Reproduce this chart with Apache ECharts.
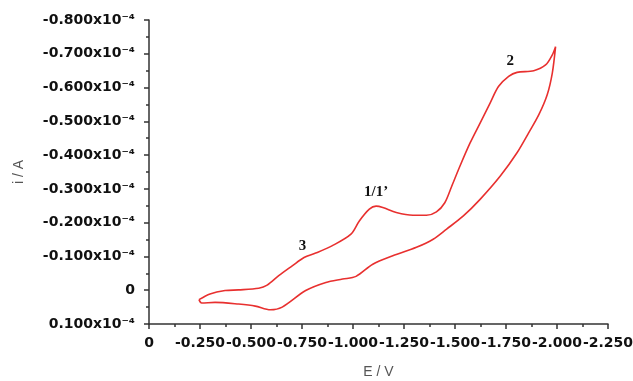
<!DOCTYPE html>
<html>
<head>
<meta charset="utf-8">
<script src="https://cdn.jsdelivr.net/npm/echarts@6/dist/echarts.min.js"></script>
<style>
  html, body { margin: 0; padding: 0; background: #fff; }
  #main { width: 633px; height: 381px; }
</style>
</head>
<body>
<div id="main"></div>
<script>
// potential (V) and current (x10^-4 A), cathodic sweep -0.25 -> -2.0 V
var forwardE = [-0.245, -0.299, -0.373, -0.439, -0.538, -0.579, -0.636, -0.702, -0.760, -0.817,
  -0.899, -0.990, -1.031, -1.080, -1.113, -1.146, -1.212, -1.294, -1.360, -1.409,
  -1.450, -1.484, -1.524, -1.574, -1.623, -1.672, -1.713, -1.763, -1.804, -1.886,
  -1.944, -1.977, -1.993];
var forwardI = [0.028, 0.011, 0.001, -0.001, -0.006, -0.015, -0.043, -0.072, -0.097, -0.110,
  -0.132, -0.166, -0.205, -0.240, -0.249, -0.245, -0.230, -0.222, -0.222, -0.232,
  -0.259, -0.308, -0.367, -0.436, -0.495, -0.554, -0.603, -0.633, -0.645, -0.650,
  -0.667, -0.697, -0.721];

// return sweep -2.0 -> -0.25 V
var reverseE = [-1.977, -1.952, -1.911, -1.861, -1.804, -1.722, -1.623, -1.541, -1.459, -1.393,
  -1.311, -1.195, -1.097, -1.015, -0.949, -0.867, -0.768, -0.653, -0.595, -0.521,
  -0.439, -0.324, -0.258, -0.245];
var reverseI = [-0.643, -0.579, -0.520, -0.466, -0.407, -0.338, -0.269, -0.220, -0.181, -0.151,
  -0.127, -0.102, -0.077, -0.041, -0.033, -0.023, 0.001, 0.050, 0.058, 0.047,
  0.041, 0.036, 0.038, 0.028];

// peak labels
var peakNames = ['3', '1/1\u2019', '2'];
var peakE = [-0.752, -1.113, -1.771];
var peakI = [-0.131, -0.289, -0.677];

var loop = [];
forwardE.forEach(function (e, k) { loop.push([e, forwardI[k]]); });
reverseE.forEach(function (e, k) { loop.push([e, reverseI[k]]); });

var peaks = peakNames.map(function (n, k) {
  return { name: n, coord: [peakE[k], peakI[k]] };
});

var axisFont = { fontFamily: 'DejaVu Sans', fontWeight: 'bold', fontSize: 14, color: '#111' };
var lineStyle = { color: '#333', width: 1.5 };

var chart = echarts.init(document.getElementById('main'));
chart.setOption({
  animation: false,
  grid: { left: 149, right: 25, top: 20, bottom: 57, outerBoundsMode: 'none' },
  xAxis: {
    type: 'value', min: -2.25, max: 0, interval: 0.25, inverse: true,
    name: 'E / V', nameLocation: 'middle', nameGap: 41,
    nameTextStyle: { fontFamily: 'Liberation Sans', fontSize: 14, color: '#555' },
    axisLine: { onZero: false, lineStyle: lineStyle },
    axisTick: { length: 5, lineStyle: lineStyle },
    minorTick: { show: true, splitNumber: 2, length: 3, lineStyle: lineStyle },
    splitLine: { show: false },
    axisLabel: Object.assign({
      margin: 12,
      formatter: function (v) { return Math.abs(v) < 1e-9 ? '0' : v.toFixed(3); }
    }, axisFont)
  },
  yAxis: {
    type: 'value', min: -0.8, max: 0.1, interval: 0.1, inverse: true,
    name: 'i / A', nameLocation: 'middle', nameGap: 123,
    nameTextStyle: { fontFamily: 'Liberation Sans', fontSize: 14, color: '#555' },
    axisLine: { onZero: false, lineStyle: lineStyle },
    axisTick: { length: 5, lineStyle: lineStyle },
    minorTick: { show: true, splitNumber: 2, length: 3, lineStyle: lineStyle },
    splitLine: { show: false },
    axisLabel: Object.assign({
      margin: 14,
      formatter: function (v) { return Math.abs(v) < 1e-9 ? '0' : v.toFixed(3) + 'x10\u207B\u2074'; }
    }, axisFont)
  },
  series: [{
    type: 'line',
    data: loop.concat([loop[0]]),
    showSymbol: false,
    smooth: 0.3,
    lineStyle: { color: '#e8302f', width: 1.6 },
    markPoint: {
      symbol: 'circle', symbolSize: 0,
      label: {
        show: true, position: 'inside', formatter: '{b}',
        fontFamily: 'Liberation Serif', fontWeight: 'bold', fontSize: 15, color: '#111'
      },
      data: peaks
    }
  }]
});
</script>
</body>
</html>
